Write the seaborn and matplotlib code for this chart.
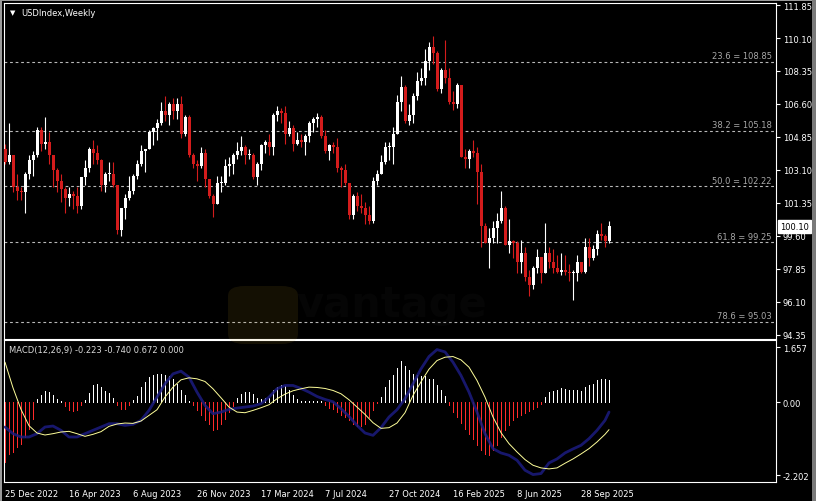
import matplotlib
matplotlib.use('Agg')
import matplotlib.pyplot as plt
import numpy as np
import pandas as pd
import seaborn as sns
from matplotlib.patches import Rectangle, FancyBboxPatch

# weekly bars, MT4 style (week starts on Sunday)
weeks = pd.date_range('2022-12-25', periods=152, freq='W-SUN')

opens = [104.2, 103.5, 103.9, 102.2, 102.0, 101.9, 102.9, 103.6, 103.9, 105.2,
         104.5, 104.6, 103.9, 103.1, 102.5, 102.1, 101.6, 101.8, 101.7, 101.2,
         102.7, 103.2, 104.2, 104.0, 103.6, 102.3, 102.9, 102.9, 102.3, 99.9,
         101.1, 101.6, 102.0, 102.8, 103.4, 104.1, 104.2, 105.1, 105.3, 105.6,
         106.2, 106.0, 106.6, 106.2, 106.6, 105.0, 105.9, 103.9, 103.4, 103.3,
         104.0, 102.6, 101.7, 101.3, 102.4, 102.4, 103.3, 103.4, 103.9, 104.1,
         104.3, 103.9, 103.9, 102.7, 103.4, 104.4, 104.6, 104.3, 106.0, 106.2,
         106.1, 105.0, 105.3, 104.5, 104.7, 104.6, 104.9, 105.6, 105.8, 105.9,
         104.9, 104.1, 104.4, 104.3, 103.2, 103.1, 102.4, 100.7, 101.7, 101.2,
         101.1, 100.7, 100.4, 102.5, 102.9, 103.5, 104.3, 104.3, 105.0, 106.7,
         107.5, 105.7, 106.0, 107.0, 107.8, 108.0, 108.9, 109.6, 109.3, 107.4,
         108.4, 108.0, 106.7, 106.6, 107.6, 103.8, 103.7, 104.1, 104.0, 103.0,
         100.1, 99.2, 99.5, 100.0, 100.4, 101.1, 99.1, 99.3, 99.2, 98.2,
         98.7, 97.4, 97.0, 97.9, 98.5, 97.6, 98.7, 98.2, 97.9, 97.7,
         97.8, 97.7, 97.6, 97.6, 98.2, 97.7, 99.0, 98.4, 98.9, 99.7,
         99.6, 99.3]
highs = [104.5, 105.6, 103.9, 102.9, 102.2, 103.0, 103.9, 104.1, 105.4, 105.4,
         105.9, 105.1, 103.9, 103.2, 102.9, 102.2, 102.2, 102.0, 102.2, 102.7,
         103.6, 104.3, 104.7, 104.4, 103.7, 103.0, 103.5, 103.5, 102.3, 101.1,
         101.8, 102.8, 102.9, 103.6, 104.4, 104.2, 105.2, 105.4, 105.8, 106.7,
         107.0, 106.7, 106.9, 106.9, 107.0, 106.0, 106.0, 104.0, 103.6, 104.3,
         104.2, 102.6, 101.8, 102.8, 102.8, 103.7, 103.8, 104.0, 104.6, 104.9,
         104.4, 104.2, 104.0, 103.5, 104.5, 104.7, 105.0, 106.1, 106.5, 106.4,
         106.5, 105.7, 105.5, 105.1, 105.0, 105.0, 105.7, 105.9, 106.1, 106.0,
         105.2, 104.5, 104.6, 104.8, 103.3, 103.4, 102.4, 101.8, 101.9, 101.8,
         101.4, 101.2, 102.7, 103.1, 103.9, 104.6, 104.6, 105.4, 107.1, 108.1,
         107.6, 106.6, 107.2, 108.3, 108.5, 109.5, 109.9, 110.2, 109.4, 108.5,
         110.0, 108.5, 107.3, 107.7, 107.6, 104.2, 104.2, 104.7, 104.3, 103.4,
         100.3, 100.0, 100.4, 100.8, 102.0, 101.2, 100.5, 99.4, 99.3, 99.4,
         99.0, 97.8, 98.0, 98.9, 98.5, 100.3, 99.0, 98.9, 98.6, 98.7,
         98.6, 98.1, 97.8, 98.6, 98.2, 99.5, 99.5, 99.1, 99.9, 100.3,
         99.7, 100.4]
lows = [103.4, 103.4, 101.9, 101.5, 101.5, 100.8, 102.6, 102.8, 103.8, 104.1,
        104.2, 103.4, 102.2, 101.9, 101.4, 100.8, 101.2, 101.0, 100.8, 101.0,
        102.3, 103.0, 103.4, 103.4, 102.0, 101.9, 102.5, 102.2, 99.7, 99.6,
        100.5, 101.5, 101.8, 102.6, 103.3, 103.0, 104.2, 104.4, 104.7, 105.5,
        105.7, 105.5, 105.8, 105.8, 104.8, 104.9, 103.8, 103.2, 102.5, 103.2,
        102.2, 101.6, 100.6, 101.3, 101.9, 102.3, 102.8, 102.9, 103.7, 103.9,
        103.4, 103.7, 102.6, 102.3, 103.1, 104.0, 103.9, 103.9, 105.7, 105.6,
        104.5, 104.9, 104.1, 104.4, 104.3, 103.9, 104.6, 105.1, 105.4, 104.8,
        104.0, 103.6, 104.0, 103.0, 102.2, 102.3, 100.5, 100.5, 100.9, 100.8,
        100.2, 100.2, 100.3, 102.3, 102.9, 103.4, 103.6, 103.4, 105.0, 106.2,
        105.6, 105.5, 105.6, 106.8, 107.6, 107.6, 108.4, 108.7, 107.3, 107.2,
        107.7, 106.6, 106.3, 106.4, 103.8, 103.2, 103.2, 103.8, 101.3, 99.0,
        99.2, 97.9, 99.2, 99.2, 100.3, 99.1, 98.7, 98.4, 97.6, 97.6,
        97.2, 96.4, 96.8, 97.6, 97.1, 97.6, 97.9, 97.6, 97.6, 97.5,
        97.5, 97.2, 96.2, 97.2, 97.6, 97.6, 98.0, 98.3, 98.6, 99.4,
        99.0, 99.2]
closes = [103.5, 103.9, 102.2, 102.0, 101.9, 102.9, 103.6, 103.9, 105.2, 104.5,
          104.6, 103.9, 103.1, 102.5, 102.1, 101.6, 101.8, 101.7, 101.2, 102.7,
          103.2, 104.2, 104.0, 103.6, 102.3, 102.9, 102.9, 102.3, 99.9, 101.1,
          101.6, 102.0, 102.8, 103.4, 104.1, 104.2, 105.1, 105.3, 105.6, 106.2,
          106.0, 106.6, 106.2, 106.6, 105.0, 105.9, 103.9, 103.4, 103.3, 104.0,
          102.6, 101.7, 101.3, 102.4, 102.4, 103.3, 103.4, 103.9, 104.1, 104.3,
          103.9, 103.9, 102.7, 103.4, 104.4, 104.6, 104.3, 106.0, 106.2, 106.1,
          105.0, 105.3, 104.5, 104.7, 104.6, 104.9, 105.6, 105.8, 105.9, 104.9,
          104.1, 104.4, 104.3, 103.2, 103.1, 102.4, 100.7, 101.7, 101.2, 101.1,
          100.7, 100.4, 102.5, 102.9, 103.5, 104.3, 104.3, 105.0, 106.7, 107.5,
          105.7, 106.0, 107.0, 107.8, 108.0, 108.9, 109.6, 109.3, 107.4, 108.4,
          108.0, 106.7, 106.6, 107.6, 103.8, 103.7, 104.1, 104.0, 103.0, 100.1,
          99.2, 99.5, 100.0, 100.4, 101.1, 99.1, 99.3, 99.2, 98.2, 98.7,
          97.4, 97.0, 97.9, 98.5, 97.6, 98.7, 98.2, 97.9, 97.7, 97.8,
          97.7, 97.6, 97.6, 98.2, 97.7, 99.0, 98.4, 98.9, 99.7, 99.6,
          99.3, 100.1]

# MACD histogram, one value per week
macd_hist = [-1.80, -1.55, -1.50, -1.35, -1.25, -1.05, -0.80, -0.50,
             0.08, 0.20, 0.32, 0.30, 0.20, 0.08, 0.02,
             -0.12, -0.25, -0.28, -0.25, -0.08,
             0.05, 0.28, 0.50, 0.55, 0.45, 0.33, 0.28, 0.12,
             -0.10, -0.22, -0.22, -0.10,
             0.05, 0.18, 0.45, 0.60, 0.75, 0.82, 0.85, 0.85, 0.82, 0.78, 0.68, 0.55, 0.35, 0.20, 0.02,
             -0.08, -0.25, -0.40, -0.55, -0.65, -0.85, -0.80, -0.65, -0.50, -0.30, -0.12,
             0.12, 0.25, 0.30, 0.30, 0.25, 0.12, 0.10, 0.12, 0.12, 0.35, 0.45, 0.50, 0.48, 0.35,
             0.20, 0.08, 0.04, 0.04, 0.04, 0.04, 0.04, 0.04,
             -0.10, -0.18, -0.22, -0.30, -0.38, -0.45, -0.55, -0.65, -0.72, -0.72, -0.65, -0.45, -0.25, -0.02,
             0.15, 0.45, 0.65, 0.83, 1.02, 1.23, 1.08, 0.98, 0.85, 0.82, 0.77, 0.77, 0.70, 0.70, 0.50, 0.35, 0.17,
             -0.10, -0.30, -0.45, -0.63, -0.80, -0.95, -1.10, -1.30, -1.45, -1.55, -1.60, -1.45,
             -1.30, -1.05, -0.85, -0.70, -0.55, -0.45, -0.38, -0.32, -0.27, -0.22, -0.15, -0.05,
             0.15, 0.30, 0.33, 0.37, 0.43, 0.40, 0.37, 0.35, 0.35, 0.33, 0.45, 0.50, 0.55, 0.67, 0.70, 0.70, 0.672]

# MACD lines, read every second week
line_weeks = list(range(0, 152, 2)) + [151]
macd_main = [-0.75, -0.95, -1.05, -1.05, -0.95, -0.75, -0.72, -0.85, -1.05, -1.05,
             -0.95, -0.85, -0.75, -0.65, -0.65, -0.70, -0.67, -0.55, -0.25, 0.15,
             0.55, 0.85, 0.93, 0.75, 0.30, -0.10, -0.35, -0.30, -0.22, -0.18,
             -0.15, -0.12, -0.05, 0.15, 0.40, 0.50, 0.50, 0.41, 0.30, 0.17,
             0.08, 0.01, -0.20, -0.43, -0.70, -0.93, -1.00, -0.77, -0.45, -0.23,
             0.10, 0.55, 1.00, 1.37, 1.58, 1.51, 1.20, 0.80, 0.30, -0.30,
             -0.95, -1.40, -1.53, -1.60, -1.75, -2.05, -2.18, -2.15, -1.83, -1.71,
             -1.53, -1.41, -1.30, -1.10, -0.85, -0.55, -0.30]
macd_signal = [1.20, 0.43, -0.22, -0.71, -0.93, -0.99, -0.95, -0.90, -0.88, -0.95,
               -1.03, -0.97, -0.89, -0.73, -0.66, -0.63, -0.64, -0.57, -0.40, -0.23,
               0.15, 0.45, 0.67, 0.73, 0.70, 0.62, 0.40, 0.13, -0.15, -0.30,
               -0.32, -0.25, -0.17, -0.08, 0.10, 0.24, 0.34, 0.40, 0.45, 0.44,
               0.41, 0.35, 0.25, 0.07, -0.15, -0.37, -0.62, -0.79, -0.77, -0.63,
               -0.32, 0.20, 0.61, 0.99, 1.25, 1.35, 1.37, 1.27, 1.05, 0.65,
               0.15, -0.45, -0.92, -1.25, -1.50, -1.73, -1.90, -1.98, -2.01, -1.98,
               -1.84, -1.71, -1.56, -1.40, -1.20, -0.97, -0.83]

fib_levels = [108.85, 105.18, 102.22, 99.25, 95.03]
fib_names = ['23.6', '38.2', '50.0', '61.8', '78.6']
price_ticks = [94.35, 96.10, 97.85, 99.60, 101.35, 103.10, 104.85, 106.60, 108.35, 110.10, 111.85]
macd_ticks = [1.657, 0.0, -2.202]
macd_tick_labels = ['1.657', '0.00', '-2.202']

sns.set_theme(style='dark', rc={'axes.facecolor': 'black', 'figure.facecolor': 'black'})
plt.rcParams['font.family'] = ['DejaVu Sans']

W, H = 816, 502
fig = plt.figure(figsize=(W / 100, H / 100), dpi=100, facecolor='black')
ax = fig.add_axes([4 / W, 1 - 340 / H, 772 / W, 336 / H])
ax2 = fig.add_axes([4 / W, 1 - 483 / H, 772 / W, 142 / H])

red = '#d41c1c'
x = np.arange(len(closes))
o = np.array(opens)
c = np.array(closes)
up = c >= o

# candles
ax.vlines(x[up], np.array(lows)[up], np.array(highs)[up], color='white', lw=0.8, zorder=3)
ax.vlines(x[~up], np.array(lows)[~up], np.array(highs)[~up], color=red, lw=0.8, zorder=3)
body = np.maximum(np.abs(c - o), 0.06)
ax.bar(x[up], body[up], bottom=np.minimum(o, c)[up], width=0.75, color='white', lw=0, zorder=4)
ax.bar(x[~up], body[~up], bottom=np.minimum(o, c)[~up], width=0.75, color=red, lw=0, zorder=4)

# fibonacci levels
for lvl, name in zip(fib_levels, fib_names):
    ax.axhline(lvl, color='#b8b8b8', lw=0.8, dashes=(2.5, 2.5), zorder=2)
    ax.annotate(f'{name} = {lvl:.2f}', xy=(0.9948, lvl), xycoords=('axes fraction', 'data'),
                xytext=(0, 1), textcoords='offset points', ha='right', va='bottom',
                color='#a8a8a8', fontsize=6)

ax.set_xlim(-0.25, 192.75)
ax.set_ylim(94.12, 111.96)
ax.yaxis.tick_right()
ax.set_yticks(price_ticks)
ax.set_yticklabels([f'{t:.2f}' for t in price_ticks])
ax.set_xticks([])
ax.tick_params(axis='y', colors='white', labelcolor='white', labelsize=6, length=3, width=0.8,
               pad=2, right=True, direction='out')

# current price tag
ax.annotate(f'{closes[-1]:.2f}', xy=(1.0, closes[-1]), xycoords=('axes fraction', 'data'),
            xytext=(3, 0), textcoords='offset points', ha='left', va='center',
            color='black', fontsize=6,
            bbox=dict(boxstyle='square,pad=0.25', fc='white', ec='white'))

ax.text(0.0075, 0.973, '\u25bc', transform=ax.transAxes, color='white', fontsize=5,
        ha='left', va='center')
ax.text(0.0220, 0.973, 'USDIndex,Weekly', transform=ax.transAxes, color='white',
        fontsize=6, ha='left', va='center')

# MACD panel
hist = np.array(macd_hist)
ax2.vlines(x[hist >= 0], 0, hist[hist >= 0], color='white', lw=0.7, zorder=2,
           antialiased=False)
ax2.vlines(x[hist < 0], 0, hist[hist < 0], color='#ff2a2a', lw=0.7, zorder=2,
           antialiased=False)
sns.lineplot(x=line_weeks, y=macd_main, ax=ax2, color='#1c1c80', lw=2.0, zorder=3, alpha=0.85)
sns.lineplot(x=line_weeks, y=macd_signal, ax=ax2, color='#ffff9a', lw=0.7, zorder=4)

ax2.set_xlim(-0.25, 192.75)
ax2.set_ylim(-2.404, 1.868)
ax2.yaxis.tick_right()
ax2.set_yticks(macd_ticks)
ax2.set_yticklabels(macd_tick_labels)
ax2.set_xlabel('')
ax2.set_ylabel('')
tick_idx = list(range(0, 152, 16))
ax2.set_xticks(tick_idx)
ax2.set_xticklabels([f'{weeks[i].day} {weeks[i]:%b %Y}' for i in tick_idx], ha='left')
ax2.tick_params(axis='both', colors='white', labelcolor='white', labelsize=6, length=3,
                width=0.8, pad=2, direction='out')
ax2.text(0.0065, 0.93, 'MACD(12,26,9) -0.223 -0.740 0.672 0.000', transform=ax2.transAxes,
         color='#d8d8d8', fontsize=6, ha='left', va='center')

for a in (ax, ax2):
    a.grid(False)
    for s in a.spines.values():
        s.set_color('white')
        s.set_linewidth(0.8)

# faint watermark
fig.add_artist(FancyBboxPatch((228 / W, 1 - 345 / H), 70 / W, 58 / H,
                              boxstyle='round,pad=0,rounding_size=0.02',
                              transform=fig.transFigure, fc='#c9a227', ec='none',
                              alpha=0.10, zorder=5))
fig.text(392 / W, 1 - 305 / H, 'vantage', color='#222222', alpha=0.15, fontsize=30,
         fontweight='bold', ha='center', va='center', zorder=5)

# window frame
fig.add_artist(Rectangle((0, 1 - 2 / H), 1, 2 / H, transform=fig.transFigure,
                         fc='#9a9a9a', ec='none'))
fig.add_artist(Rectangle((0, 0), 2 / W, 1, transform=fig.transFigure, fc='#9a9a9a', ec='none'))
fig.add_artist(Rectangle((812 / W, 0), 4 / W, 1, transform=fig.transFigure,
                         fc='#7a7a7a', ec='none'))

fig.savefig('out.png', dpi=100, facecolor='black')
